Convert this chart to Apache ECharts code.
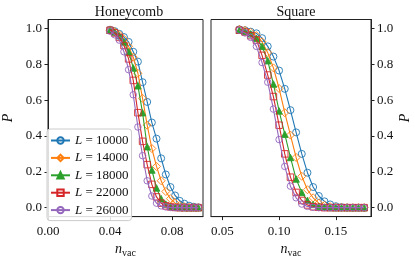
<!DOCTYPE html>
<html><head><meta charset="utf-8">
<script src="https://cdn.jsdelivr.net/npm/echarts@6/dist/echarts.min.js"></script>
<style>html,body{margin:0;padding:0;background:#fff}#c{width:415px;height:263px}</style>
</head><body><div id="c"></div><script>
const sizesL = ['10000','14000','18000','22000','26000'];
const colors = ['#1f77b4','#ff7f0e','#2ca02c','#d62728','#9467bd'];
const symbols = ['circle','diamond','triangle','rect','circle'];
const symbolFilled = [false,false,true,false,false];
const symbolSizes = [7,8,6.5,6.5,6.5];

const honeyX = [0.040,0.043,0.046,0.049,0.052,0.055,0.058,0.061,0.064,0.067,0.070,0.073,0.076,0.079,0.082,0.085,0.088,0.091,0.094,0.097];
const honeyP10000 = [0.993,0.985,0.970,0.952,0.925,0.870,0.815,0.700,0.590,0.475,0.385,0.275,0.185,0.115,0.068,0.038,0.022,0.011,0.005,0.002];
const honeyP14000 = [0.990,0.982,0.965,0.940,0.900,0.840,0.750,0.610,0.460,0.330,0.230,0.150,0.090,0.050,0.025,0.012,0.005,0.002,0.001,0.000];
const honeyP18000 = [0.990,0.980,0.960,0.925,0.870,0.780,0.680,0.530,0.340,0.210,0.110,0.050,0.020,0.008,0.003,0.001,0.000,0.000,0.000,0.000];
const honeyP22000 = [0.990,0.975,0.950,0.905,0.830,0.710,0.530,0.370,0.240,0.130,0.060,0.025,0.010,0.004,0.001,0.000,0.000,0.000,0.000,0.000];
const honeyP26000 = [0.985,0.965,0.935,0.870,0.770,0.630,0.450,0.290,0.150,0.065,0.025,0.010,0.004,0.001,0.000,0.000,0.000,0.000,0.000,0.000];

const squareX = [0.065,0.070,0.075,0.080,0.085,0.090,0.095,0.100,0.105,0.110,0.115,0.120,0.125,0.130,0.135,0.140,0.145,0.150,0.155,0.160,0.165,0.170,0.175];
const squareP10000 = [0.995,0.990,0.982,0.973,0.946,0.900,0.843,0.765,0.663,0.544,0.420,0.300,0.195,0.115,0.065,0.035,0.018,0.008,0.003,0.001,0.000,0.000,0.000];
const squareP14000 = [0.995,0.990,0.978,0.960,0.925,0.865,0.780,0.665,0.530,0.405,0.280,0.175,0.100,0.055,0.025,0.012,0.005,0.002,0.001,0.000,0.000,0.000,0.000];
const squareP18000 = [0.990,0.985,0.970,0.945,0.900,0.820,0.690,0.540,0.410,0.280,0.160,0.085,0.040,0.018,0.007,0.003,0.001,0.000,0.000,0.000,0.000,0.000,0.000];
const squareP22000 = [0.990,0.980,0.960,0.935,0.850,0.740,0.620,0.460,0.300,0.170,0.085,0.040,0.015,0.005,0.002,0.000,0.000,0.000,0.000,0.000,0.000,0.000,0.000];
const squareP26000 = [0.990,0.975,0.950,0.900,0.810,0.700,0.550,0.380,0.230,0.120,0.055,0.020,0.007,0.002,0.000,0.000,0.000,0.000,0.000,0.000,0.000,0.000,0.000];

const yTicks = [0.0,0.2,0.4,0.6,0.8,1.0];
const honeyXTicks = [0.00,0.04,0.08];
const squareXTicks = [0.05,0.10,0.15];

const honeyP = [honeyP10000,honeyP14000,honeyP18000,honeyP22000,honeyP26000];
const squareP = [squareP10000,squareP14000,squareP18000,squareP22000,squareP26000];

const FONT = 'Liberation Serif';
const TXT = '#111';
const zip = (xs, ys) => xs.map((x,i)=>[x, ys[i]]);

const series = [];
[[honeyX, honeyP, 0],[squareX, squareP, 1]].forEach(([xs, ps, g]) => {
  ps.forEach((p, k) => {
    series.push({
      type: 'line', name: 'L = ' + sizesL[k], xAxisIndex: g, yAxisIndex: g,
      data: zip(xs, p), symbol: symbols[k], symbolSize: symbolSizes[k],
      showAllSymbol: true, clip: false,
      lineStyle: {color: colors[k], width: 1.1},
      itemStyle: {color: symbolFilled[k] ? colors[k] : 'rgba(255,255,255,0)', borderColor: colors[k], borderWidth: 0.9},
      emphasis: {disabled: true}, animation: false, z: 2 + k
    });
  });
});

const axisCommon = {
  axisLine: {show: true, onZero: false, lineStyle: {color: '#222', width: 1}},
  axisTick: {show: true, length: 3.5, lineStyle: {color: '#222'}},
  splitLine: {show: false},
};
const nameRich = {
  i: {fontFamily: FONT, fontStyle: 'italic', fontSize: 14, color: TXT},
  s: {fontFamily: FONT, fontSize: 10, color: TXT, padding: [7,0,0,0]}
};

const option = {
  animation: false,
  backgroundColor: '#fff',
  title: [
    {text: 'Honeycomb', left: 124, top: 0, textAlign: 'center', textStyle: {fontFamily: FONT, fontSize: 14, fontWeight: 'normal', color: TXT}},
    {text: 'Square', left: 291, top: 0, textAlign: 'center', textStyle: {fontFamily: FONT, fontSize: 14, fontWeight: 'normal', color: TXT}}
  ],
  grid: [
    {left: 45, right: 212, top: 19.5, bottom: 41.3, show: true, borderColor: '#222', borderWidth: 1, backgroundColor: 'transparent'},
    {left: 211, right: 44, top: 19.5, bottom: 41.3, show: true, borderColor: '#222', borderWidth: 1, backgroundColor: 'transparent'}
  ],
  xAxis: [
    Object.assign({}, axisCommon, {type: 'value', gridIndex: 0, min: 0, max: 0.1,
      axisTick: Object.assign({}, axisCommon.axisTick, {customValues: honeyXTicks}),
      axisLabel: {customValues: honeyXTicks, formatter: v => v.toFixed(2), fontFamily: FONT, fontSize: 13, color: TXT, margin: 8},
      name: '{i|n}{s|vac}', nameLocation: 'middle', nameGap: 20, nameTextStyle: {rich: nameRich}}),
    Object.assign({}, axisCommon, {type: 'value', gridIndex: 1, min: 0.04, max: 0.181,
      axisTick: Object.assign({}, axisCommon.axisTick, {customValues: squareXTicks}),
      axisLabel: {customValues: squareXTicks, formatter: v => v.toFixed(2), fontFamily: FONT, fontSize: 13, color: TXT, margin: 8},
      name: '{i|n}{s|vac}', nameLocation: 'middle', nameGap: 20, nameTextStyle: {rich: nameRich}})
  ],
  yAxis: [
    Object.assign({}, axisCommon, {type: 'value', gridIndex: 0, min: -0.05, max: 1.05, position: 'left',
      axisTick: Object.assign({}, axisCommon.axisTick, {customValues: yTicks}),
      axisLabel: {customValues: yTicks, formatter: v => v.toFixed(1), fontFamily: FONT, fontSize: 13, color: TXT, margin: 6},
      name: 'P', nameLocation: 'middle', nameGap: 33, nameRotate: 90,
      nameTextStyle: {fontFamily: FONT, fontStyle: 'italic', fontSize: 14, color: TXT}}),
    Object.assign({}, axisCommon, {type: 'value', gridIndex: 1, min: -0.05, max: 1.05, position: 'right',
      axisTick: Object.assign({}, axisCommon.axisTick, {customValues: yTicks}),
      axisLabel: {customValues: yTicks, formatter: v => v.toFixed(1), fontFamily: FONT, fontSize: 13, color: TXT, margin: 6},
      name: 'P', nameLocation: 'middle', nameGap: 27, nameRotate: 90,
      nameTextStyle: {fontFamily: FONT, fontStyle: 'italic', fontSize: 14, color: TXT}})
  ],
  legend: {
    data: sizesL.map(s => 'L = ' + s),
    orient: 'vertical', left: 47, top: 129,
    itemWidth: 19, itemHeight: 8, itemGap: 4.4,
    padding: [5, 3, 4, 3],
    backgroundColor: 'rgba(255,255,255,0.85)', borderColor: '#ccc', borderWidth: 1, borderRadius: 3,
    selectedMode: false,
    formatter: n => '{i|L}' + n.slice(1),
    textStyle: {fontFamily: FONT, fontSize: 13, color: TXT, lineHeight: 13,
      rich: {i: {fontFamily: FONT, fontStyle: 'italic', fontSize: 13, color: TXT}}}
  },
  series: series
};
const chart = echarts.init(document.getElementById('c'), null, {renderer: 'canvas'});
chart.setOption(option);
</script></body></html>
